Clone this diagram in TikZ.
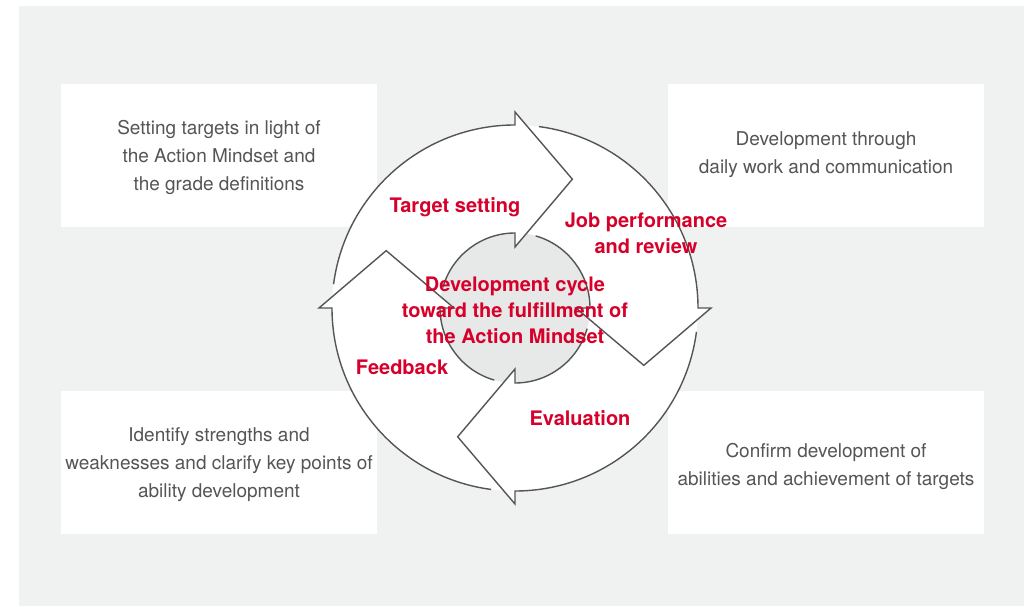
\documentclass[tikz,border=0pt]{standalone}
\usepackage{fontspec}
\setmainfont{TeX Gyre Heros}
\definecolor{bggray}{HTML}{F0F1F1}
\definecolor{discgray}{HTML}{E7E8E8}
\definecolor{linegray}{HTML}{555555}
\definecolor{textgray}{HTML}{555555}
\definecolor{cyclered}{HTML}{D6002A}
\tikzset{
  note/.style={text=textgray,align=center,font=\fontsize{19}{28}\selectfont},
  phase/.style={text=cyclered,align=center,font=\fontsize{20}{26}\selectfont\bfseries},
  panel/.style={fill=white,draw=none}
}

\begin{document}
\begin{tikzpicture}[line join=miter,x=1pt,y=1pt]
\useasboundingbox (0,0) rectangle (1024,606);
\fill[bggray] (19,0) rectangle (1024,600);
% the four white panels
\fill[panel] (61,379) rectangle (377,522);
\fill[panel] (668,379) rectangle (984,522);
\fill[panel] (61,72) rectangle (377,215);
\fill[panel] (668,72) rectangle (984,215);

\begin{scope}[shift={(515,298)}]
\fill[white] (0,0) circle (183);
\fill[discgray] (0,0) circle (75);
\foreach \h in {90,0,-90,-180}
  \fill[white] (\h:196) -- (\h-24:141) -- (\h:61) -- cycle;
% arrows: outer arc, head, inner arc back to the tail
\foreach \h in {90,0,-90,-180}
  \draw[linegray,line width=1.4pt] (\h+82.5:183) arc[start angle=\h+82.5, end angle=\h, radius=183]
    -- (\h:196) -- (\h-24:141) -- (\h:61) -- (\h:75)
    arc[start angle=\h, end angle=\h+74, radius=75];
\end{scope}

\node[note] (target) at (219,449) {Setting targets in light of\\the Action Mindset and\\the grade definitions};
\node[note] (daily) at (826,451) {Development through\\daily work and communication};
\node[note] (points) at (219,141) {Identify strengths and\\weaknesses and clarify key points of\\ability development};
\node[note] (confirm) at (826,140) {Confirm development of\\abilities and achievement of targets};

\node[phase] (setting) at (455,399) {Target setting};
\node[phase] (perform) at (646,373) {Job performance\\and review};
\node[phase] (cycle) at (515,296) {Development cycle\\toward the fulfillment of\\the Action Mindset};
\node[phase] (feedback) at (402,239) {Feedback};
\node[phase] (evaluation) at (580,188) {Evaluation};
\end{tikzpicture}
\end{document}
